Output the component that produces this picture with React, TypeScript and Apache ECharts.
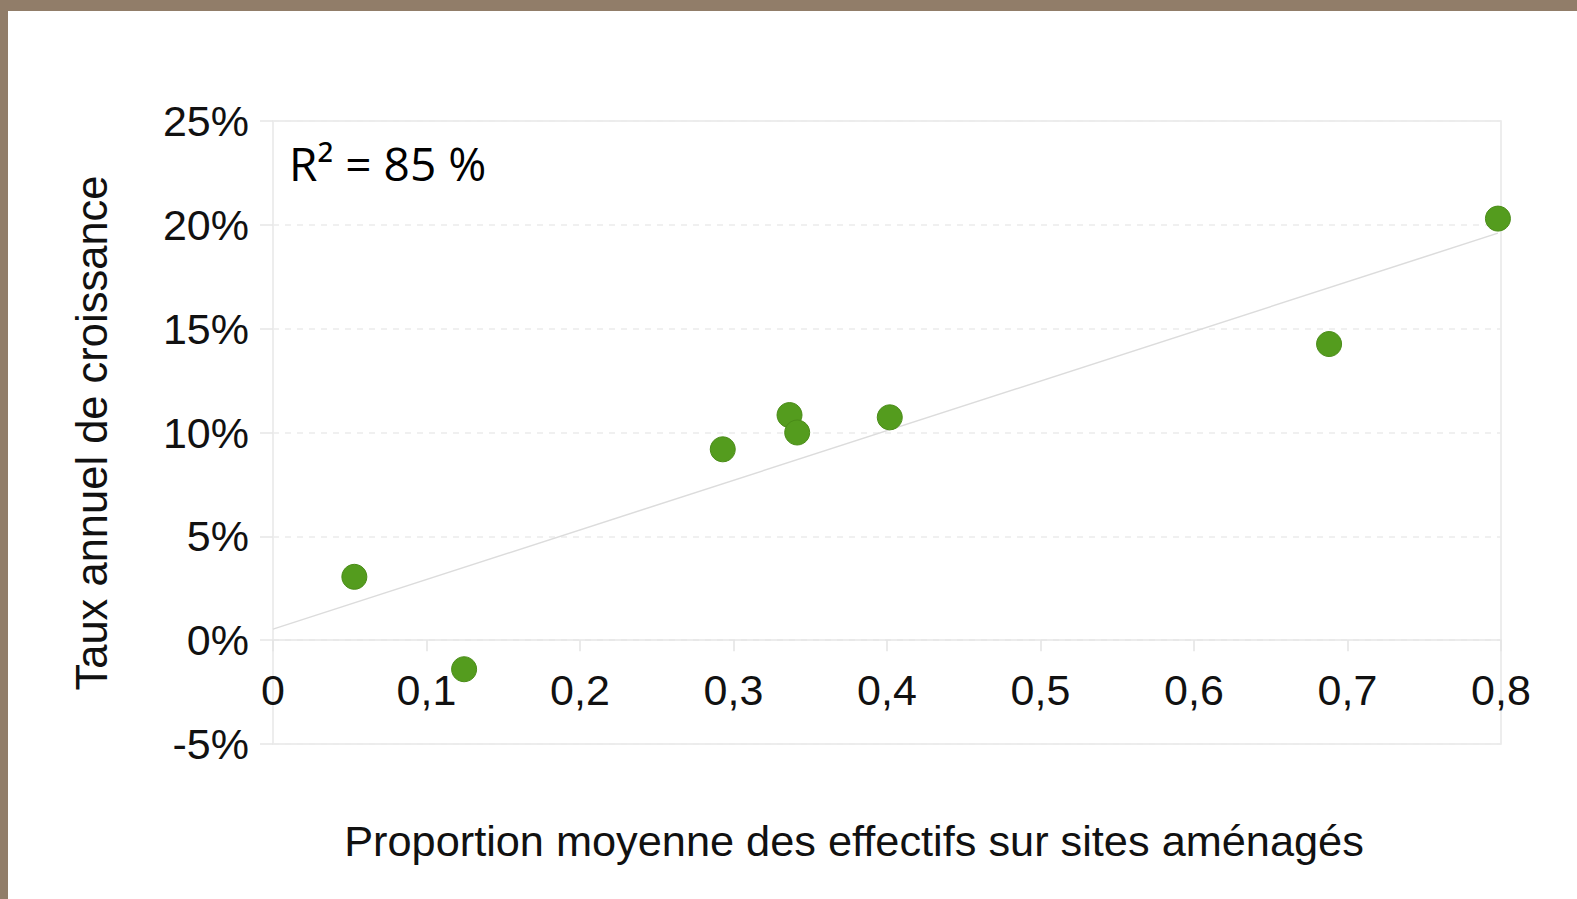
import React, { useEffect, useRef } from "react";
import * as echarts from "echarts";

const points: [number, number][] = [
  [0.053, 3.05],
  [0.1245, -1.4],
  [0.293, 9.19],
  [0.3365, 10.84],
  [0.3415, 10.0],
  [0.4018, 10.73],
  [0.688, 14.26],
  [0.798, 20.3],
];
const trendLine: [number, number][] = [
  [0, 0.53],
  [0.798, 19.6],
];
const yTicks = { min: -5, max: 25, interval: 5 };
const xTicks = { min: 0, max: 0.8, interval: 0.1 };
const xTitle = "Proportion moyenne des effectifs sur sites aménagés";
const yTitle = "Taux annuel de croissance";
const r2Text = "R² = 85 %";

const W = 1577;
const H = 899;
const FONT = "'Liberation Sans', Arial, sans-serif";
const GRID_TOP = 121;
const GRID_BOTTOM_Y = 744;
const ZERO_OFFSET = ((GRID_BOTTOM_Y - GRID_TOP) * (0 - yTicks.min)) / (yTicks.max - yTicks.min);

export default function App() {
  const ref = useRef<HTMLDivElement>(null);
  useEffect(() => {
    if (!ref.current) return;
    const chart = echarts.init(ref.current, null, { renderer: "svg" });
    chart.setOption({
      animation: false,
      backgroundColor: "#ffffff",
      grid: {
        left: 273,
        top: GRID_TOP,
        right: W - 1501,
        bottom: H - GRID_BOTTOM_Y,
        show: true,
        borderColor: "#e8e8e8",
        borderWidth: 1.5,
        backgroundColor: "transparent",
      },
      xAxis: {
        type: "value",
        min: xTicks.min,
        max: xTicks.max,
        interval: xTicks.interval,
        offset: -ZERO_OFFSET,
        axisLine: { show: true, onZero: false, lineStyle: { color: "#e6e6e6", width: 1.5 } },
        axisTick: { show: true, length: 11, lineStyle: { color: "#e3e3e3", width: 1.5 } },
        splitLine: { show: false },
        axisLabel: {
          color: "#111",
          fontFamily: FONT,
          fontSize: 43,
          margin: 28,
          formatter: (v: number) => (v === 0 ? "0" : v.toFixed(1).replace(".", ",")),
        },
      },
      yAxis: {
        type: "value",
        min: yTicks.min,
        max: yTicks.max,
        interval: yTicks.interval,
        axisLine: { show: false },
        axisTick: { show: true, length: 13, lineStyle: { color: "#e6e6e6", width: 1.5 } },
        splitLine: { show: true, lineStyle: { color: "#ececec", type: [6, 6], width: 1.5 } },
        axisLabel: {
          color: "#111",
          fontFamily: FONT,
          fontSize: 43,
          margin: 24,
          formatter: (v: number) => `${v}%`,
        },
      },
      series: [
        {
          type: "line",
          data: trendLine,
          symbol: "none",
          lineStyle: { color: "#dcdcdc", width: 1.5 },
          z: 2,
        },
        {
          type: "scatter",
          data: points,
          symbolSize: 25,
          itemStyle: { color: "#549c1e", borderColor: "#4a8c18", borderWidth: 1, opacity: 1 },
          z: 3,
        },
      ],
      graphic: [
        { type: "rect", shape: { x: 0, y: 0, width: W, height: 11 }, style: { fill: "#917d69" }, silent: true },
        { type: "rect", shape: { x: 0, y: 0, width: 8, height: H }, style: { fill: "#917d69" }, silent: true },
        {
          type: "text",
          x: 92,
          y: 433,
          rotation: Math.PI / 2,
          style: {
            text: yTitle,
            font: `43.5px ${FONT}`,
            fill: "#111",
            textAlign: "center",
            textVerticalAlign: "middle",
          },
        },
        {
          type: "text",
          x: 854,
          y: 841,
          style: {
            text: xTitle,
            font: `43.3px ${FONT}`,
            fill: "#111",
            textAlign: "center",
            textVerticalAlign: "middle",
          },
        },
        {
          type: "text",
          x: 289,
          y: 163,
          style: {
            text: r2Text,
            font: `46px 'Open Sans', sans-serif`,
            fill: "#000",
            textAlign: "left",
            textVerticalAlign: "middle",
          },
        },
      ],
    });
    return () => chart.dispose();
  }, []);
  return (
    <div style={{ position: "fixed", left: 0, top: 0, width: W, height: H, background: "#fff" }}>
      <div ref={ref} style={{ width: W, height: H }} />
    </div>
  );
}
